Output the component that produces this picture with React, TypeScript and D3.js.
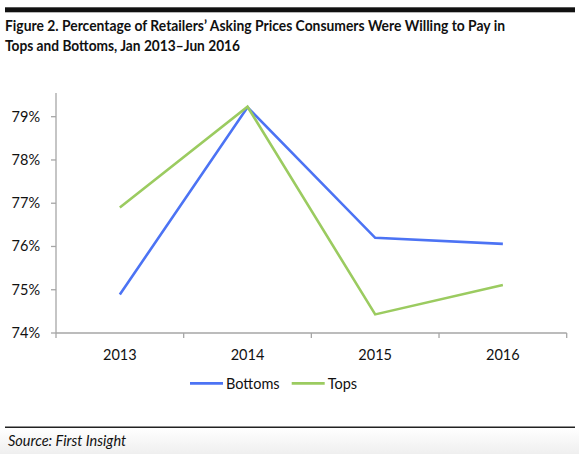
import React from "react";
import * as d3 from "d3";

const categories = ["2013", "2014", "2015", "2016"];
const bottoms = [74.89, 79.22, 76.2, 76.06];
const tops = [76.9, 79.23, 74.43, 75.11];
const yTicks = [74, 75, 76, 77, 78, 79];
const seriesNames = ["Bottoms", "Tops"];
const seriesColors = ["#4C73F4", "#9BCB60"];
const titleLines = [
  "Figure 2. Percentage of Retailers\u2019 Asking Prices Consumers Were Willing to Pay in",
  "Tops and Bottoms, Jan 2013\u2013Jun 2016",
];
const titleWidths = [500, 235];
const sourceText = "Source: First Insight";

const W = 579;
const H = 454;
const FONT = "Lato, 'Open Sans', sans-serif";

export default function App() {
  const left = 56;
  const right = 566.7;
  const x = d3.scaleBand().domain(categories).range([left, right]).padding(0);
  const y = d3.scaleLinear().domain([74, 79]).range([333, 116.7]);
  const yTop = y(79.55);
  const line = d3
    .line<number>()
    .x((_, i) => (x(categories[i]) as number) + x.bandwidth() / 2)
    .y((d) => y(d));
  const series = [bottoms, tops];
  const boundaries = [...categories.map((c) => x(c) as number), right];

  return (
    <svg
      width={W}
      height={H}
      style={{ position: "absolute", left: 0, top: 0, background: "#fff" }}
      fontFamily={FONT}
    >
      <defs>
        <linearGradient id="fade" x1="0" y1="0" x2="0" y2="1">
          <stop offset="0" stopColor="#ffffff" />
          <stop offset="1" stopColor="#efefef" />
        </linearGradient>
      </defs>
      <rect x={0} y={428} width={W} height={H - 428} fill="url(#fade)" />
      <rect x={5} y={7.3} width={570} height={5} fill="#111" />
      {titleLines.map((t, i) => (
        <text
          key={i}
          x={5}
          y={31 + i * 20}
          fontSize={15.5}
          fontWeight="bold"
          fill="#111"
          textLength={titleWidths[i]}
          lengthAdjust="spacingAndGlyphs"
        >
          {t}
        </text>
      ))}

      {/* y axis */}
      <line x1={left} x2={left} y1={yTop} y2={y(74)} stroke="#a6a6a6" strokeWidth={1.3} />
      {yTicks.map((t) => (
        <g key={t}>
          <line x1={left - 5} x2={left} y1={y(t)} y2={y(t)} stroke="#a6a6a6" strokeWidth={1.3} />
          <text x={40} y={y(t) + 5} fontSize={14.5} textAnchor="end" fill="#111">
            {t}%
          </text>
        </g>
      ))}

      {/* x axis */}
      <line x1={left} x2={right} y1={y(74)} y2={y(74)} stroke="#a6a6a6" strokeWidth={1.3} />
      {boundaries.map((b, i) => (
        <line key={i} x1={b} x2={b} y1={y(74)} y2={y(74) + 5} stroke="#a6a6a6" strokeWidth={1.3} />
      ))}
      {categories.map((c) => (
        <text
          key={c}
          x={(x(c) as number) + x.bandwidth() / 2}
          y={360}
          fontSize={14.5}
          textAnchor="middle"
          fill="#111"
        >
          {c}
        </text>
      ))}

      {/* lines */}
      {series.map((s, i) => (
        <path
          key={i}
          d={line(s) as string}
          fill="none"
          stroke={seriesColors[i]}
          strokeWidth={2.6}
          strokeLinejoin="miter"
        />
      ))}

      {/* legend */}
      {seriesNames.map((n, i) => {
        const lx = i === 0 ? 190 : 291.7;
        return (
          <g key={n}>
            <line x1={lx} x2={lx + 33} y1={383.3} y2={383.3} stroke={seriesColors[i]} strokeWidth={2.8} />
            <text x={lx + 36} y={389} fontSize={14.5} fill="#111">
              {n}
            </text>
          </g>
        );
      })}

      <line x1={5} x2={575} y1={427.3} y2={427.3} stroke="#222" strokeWidth={1.5} />
      <text x={8} y={445.5} fontSize={14.5} fontStyle="italic" fill="#111">
        {sourceText}
      </text>
    </svg>
  );
}
